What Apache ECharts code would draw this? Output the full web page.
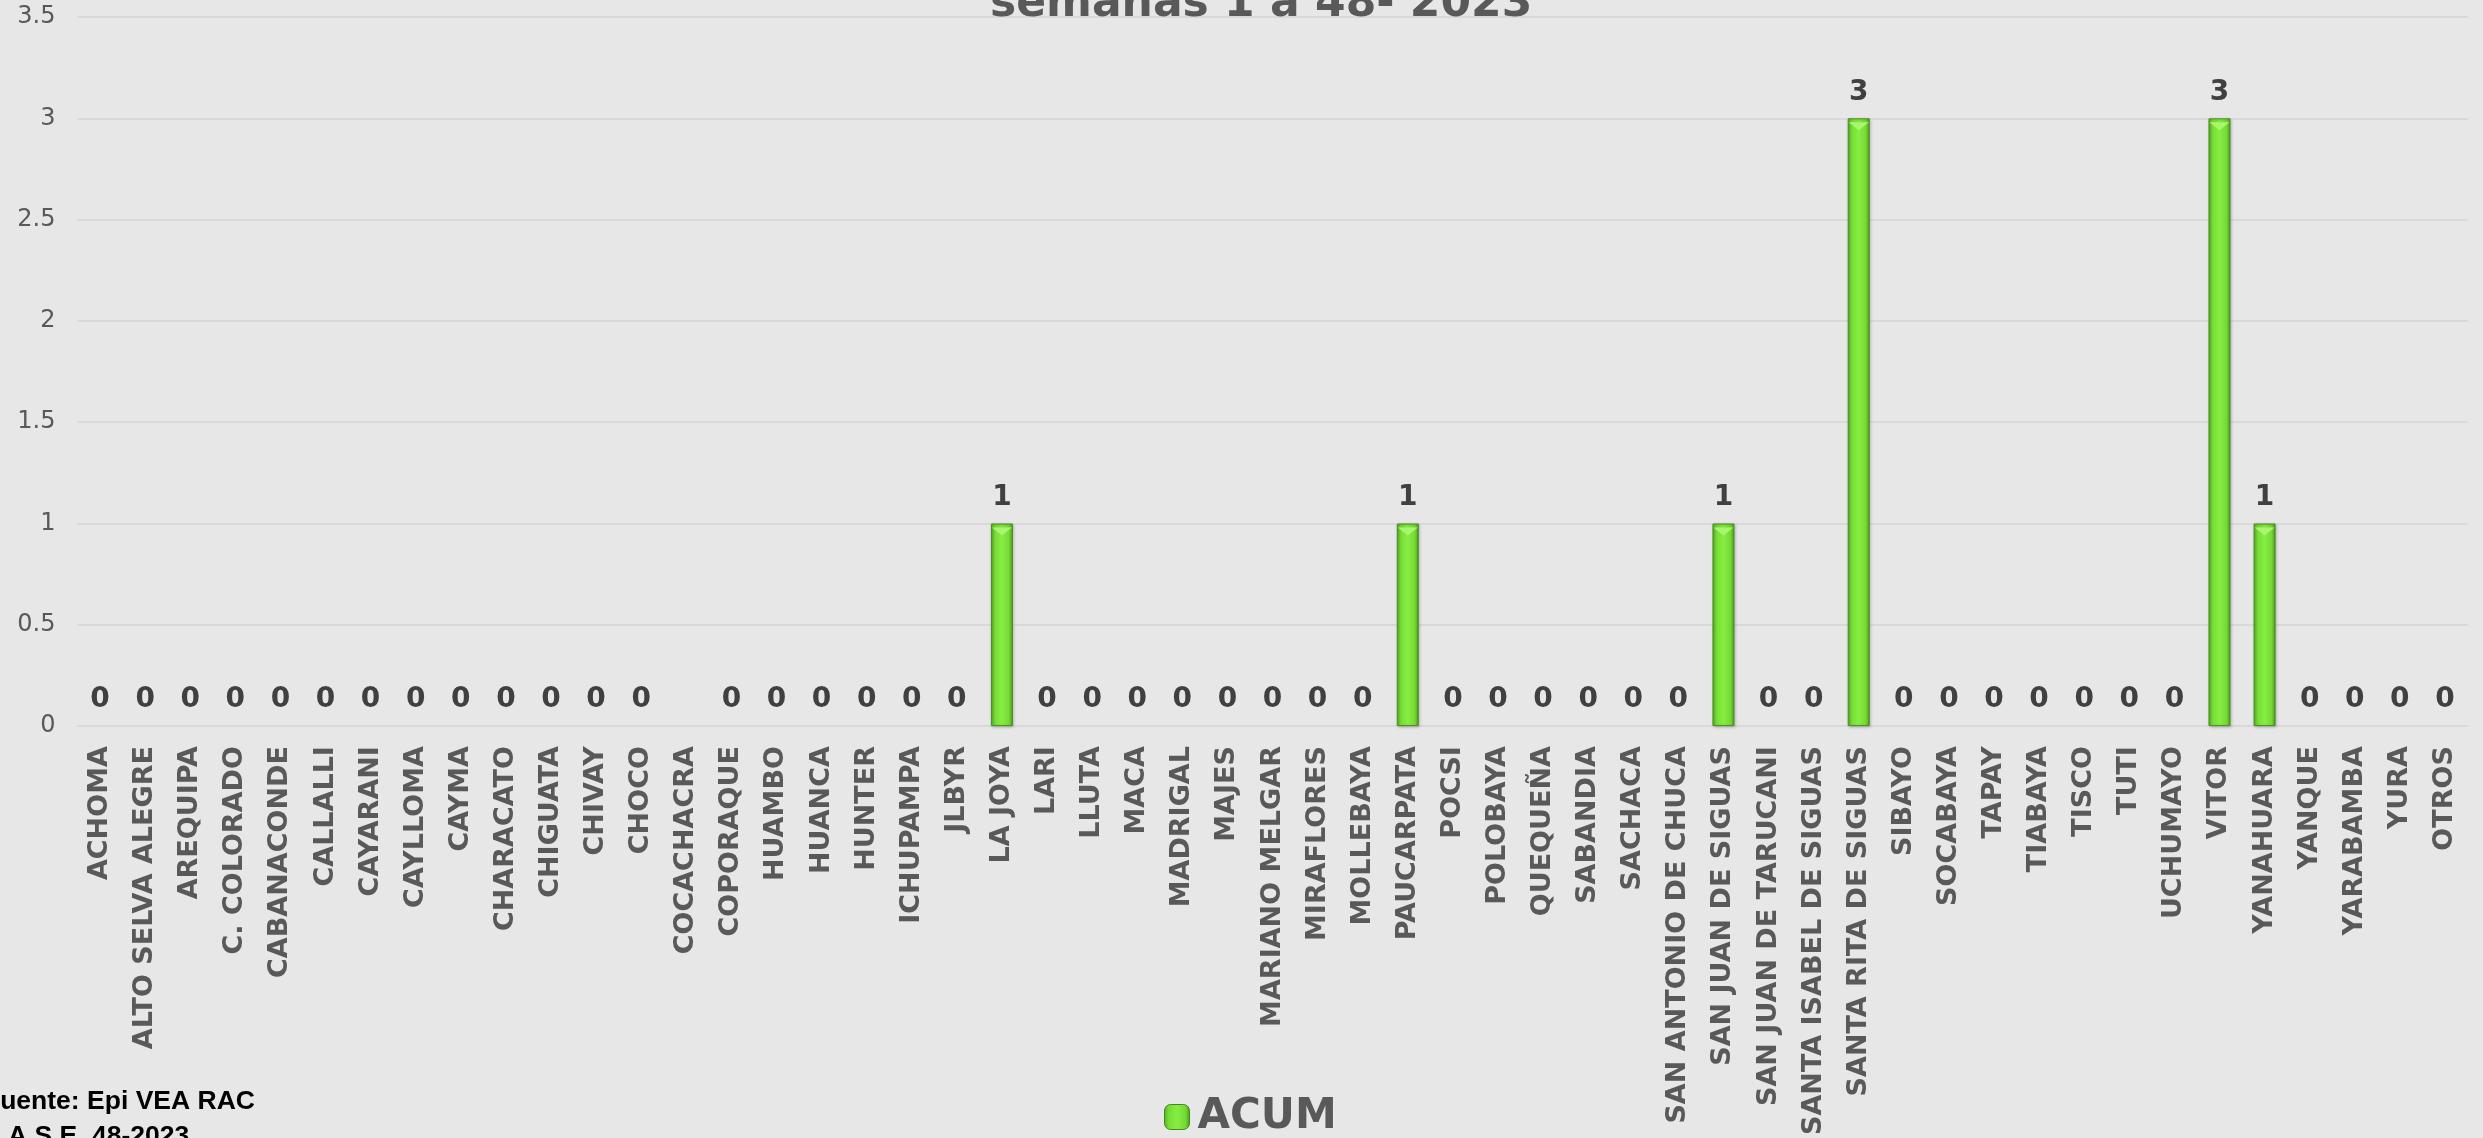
<!DOCTYPE html>
<html>
<head>
<meta charset="utf-8">
<title>ACUM por distrito</title>
<script src="https://cdn.jsdelivr.net/npm/echarts@6/dist/echarts.min.js"></script>
<style>
  html, body { margin: 0; padding: 0; background: #e7e7e7; }
  #chart { width: 2483px; height: 1138px; }
</style>
</head>
<body>
<div id="chart"></div>
<script>
// Distritos (eje X)
const districts = [
  'ACHOMA', 'ALTO SELVA ALEGRE', 'AREQUIPA', 'C. COLORADO', 'CABANACONDE',
  'CALLALLI', 'CAYARANI', 'CAYLLOMA', 'CAYMA', 'CHARACATO', 'CHIGUATA',
  'CHIVAY', 'CHOCO', 'COCACHACRA', 'COPORAQUE', 'HUAMBO', 'HUANCA', 'HUNTER',
  'ICHUPAMPA', 'JLBYR', 'LA JOYA', 'LARI', 'LLUTA', 'MACA', 'MADRIGAL',
  'MAJES', 'MARIANO MELGAR', 'MIRAFLORES', 'MOLLEBAYA', 'PAUCARPATA', 'POCSI',
  'POLOBAYA', 'QUEQUEÑA', 'SABANDIA', 'SACHACA', 'SAN ANTONIO DE CHUCA',
  'SAN JUAN DE SIGUAS', 'SAN JUAN DE TARUCANI', 'SANTA ISABEL DE SIGUAS',
  'SANTA RITA DE SIGUAS', 'SIBAYO', 'SOCABAYA', 'TAPAY', 'TIABAYA', 'TISCO',
  'TUTI', 'UCHUMAYO', 'VITOR', 'YANAHUARA', 'YANQUE', 'YARABAMBA', 'YURA',
  'OTROS'
];

// Casos acumulados, semanas 1 a 48 (COCACHACRA sin dato)
const acum = [
  0, 0, 0, 0, 0, 0, 0, 0, 0, 0, 0, 0, 0, null, 0, 0, 0, 0, 0, 0,
  1, 0, 0, 0, 0, 0, 0, 0, 0, 1, 0, 0, 0, 0, 0, 0, 1, 0, 0, 3,
  0, 0, 0, 0, 0, 0, 0, 3, 1, 0, 0, 0, 0
];

// Marcas del eje Y
const yTicks = { min: 0, max: 3.5, interval: 0.5 };

const titleText = 'semanas 1 a 48- 2023';
const sourceLine1 = 'Fuente: Epi VEA RAC';
const sourceLine2 = 'A.S.E. 48-2023';

const barFill = new echarts.graphic.LinearGradient(0, 0, 1, 0, [
  { offset: 0, color: '#55ad25' },
  { offset: 0.18, color: '#78dc36' },
  { offset: 0.5, color: '#86ee42' },
  { offset: 0.82, color: '#76d934' },
  { offset: 1, color: '#4c9a1e' }
]);

// las barras en cero no llevan relleno, borde ni sombra; solo su etiqueta
const barData = acum.map(v => {
  if (v === null) return '-';
  if (v === 0) {
    return {
      value: 0,
      itemStyle: {
        color: 'rgba(0,0,0,0)',
        borderWidth: 0,
        shadowBlur: 0,
        shadowOffsetX: 0,
        shadowOffsetY: 0,
        shadowColor: 'rgba(0,0,0,0)'
      }
    };
  }
  return v;
});

const chart = echarts.init(document.getElementById('chart'), null, { renderer: 'canvas' });

chart.setOption({
  backgroundColor: '#e7e7e7',
  animation: false,
  title: {
    text: titleText,
    left: 985,
    top: -22,
    textStyle: {
      fontFamily: 'DejaVu Sans',
      fontWeight: 'bold',
      fontSize: 44,
      color: '#595959'
    }
  },
  legend: {
    data: ['ACUM'],
    left: 1159,
    top: 1091,
    itemWidth: 25,
    itemHeight: 25,
    itemStyle: { color: barFill, borderColor: '#3f8a1a', borderWidth: 1 },
    textStyle: {
      fontFamily: 'DejaVu Sans',
      fontWeight: 'bold',
      fontSize: 42,
      color: '#595959',
      padding: [0, 0, 0, 3]
    }
  },
  grid: {
    left: 77.5,
    right: 15.5,
    top: 17,
    bottom: 411,
    containLabel: false
  },
  xAxis: {
    type: 'category',
    data: districts,
    axisLine: { show: true, lineStyle: { color: '#d9d9d9', width: 2 } },
    axisTick: { show: false },
    axisLabel: {
      interval: 0,
      rotate: 90,
      margin: 20,
      fontFamily: 'DejaVu Sans',
      fontWeight: 'bold',
      fontSize: 27,
      color: '#595959'
    }
  },
  yAxis: {
    type: 'value',
    min: yTicks.min,
    max: yTicks.max,
    interval: yTicks.interval,
    axisLine: { show: false },
    axisTick: { show: false },
    splitLine: { lineStyle: { color: '#d9d9d9', width: 2 } },
    axisLabel: {
      margin: 22,
      fontFamily: 'DejaVu Sans',
      fontSize: 24,
      color: '#595959'
    }
  },
  series: [
    {
      name: 'ACUM',
      type: 'bar',
      data: barData,
      barWidth: 22,
      itemStyle: {
        color: barFill,
        borderColor: '#4a8f22',
        borderWidth: 1,
        shadowColor: 'rgba(0,0,0,0.25)',
        shadowBlur: 3,
        shadowOffsetX: 1,
        shadowOffsetY: 1
      },
      label: {
        show: true,
        position: 'top',
        distance: 12,
        fontFamily: 'DejaVu Sans',
        fontWeight: 'bold',
        fontSize: 28,
        color: '#404040'
      },
      z: 2
    },
    {
      // bisel claro en el extremo superior de cada barra
      name: 'bisel',
      type: 'pictorialBar',
      data: acum.map(v => (v ? v : '-')),
      symbol: 'path://M0,0 L10,0 L5,4 Z',
      symbolSize: [20, 8],
      symbolPosition: 'end',
      symbolOffset: [0, 4],
      barGap: '-100%',
      itemStyle: { color: '#a8f56e' },
      silent: true,
      z: 3
    }
  ],
  graphic: [
    {
      type: 'text',
      left: -16,
      top: 1088,
      style: {
        text: sourceLine1,
        fontFamily: 'Liberation Sans',
        fontWeight: 'bold',
        fontSize: 26.5,
        fill: '#000000'
      }
    },
    {
      type: 'text',
      left: 8,
      top: 1123,
      style: {
        text: sourceLine2,
        fontFamily: 'Liberation Sans',
        fontWeight: 'bold',
        fontSize: 26.5,
        fill: '#000000'
      }
    }
  ]
});
</script>
</body>
</html>
